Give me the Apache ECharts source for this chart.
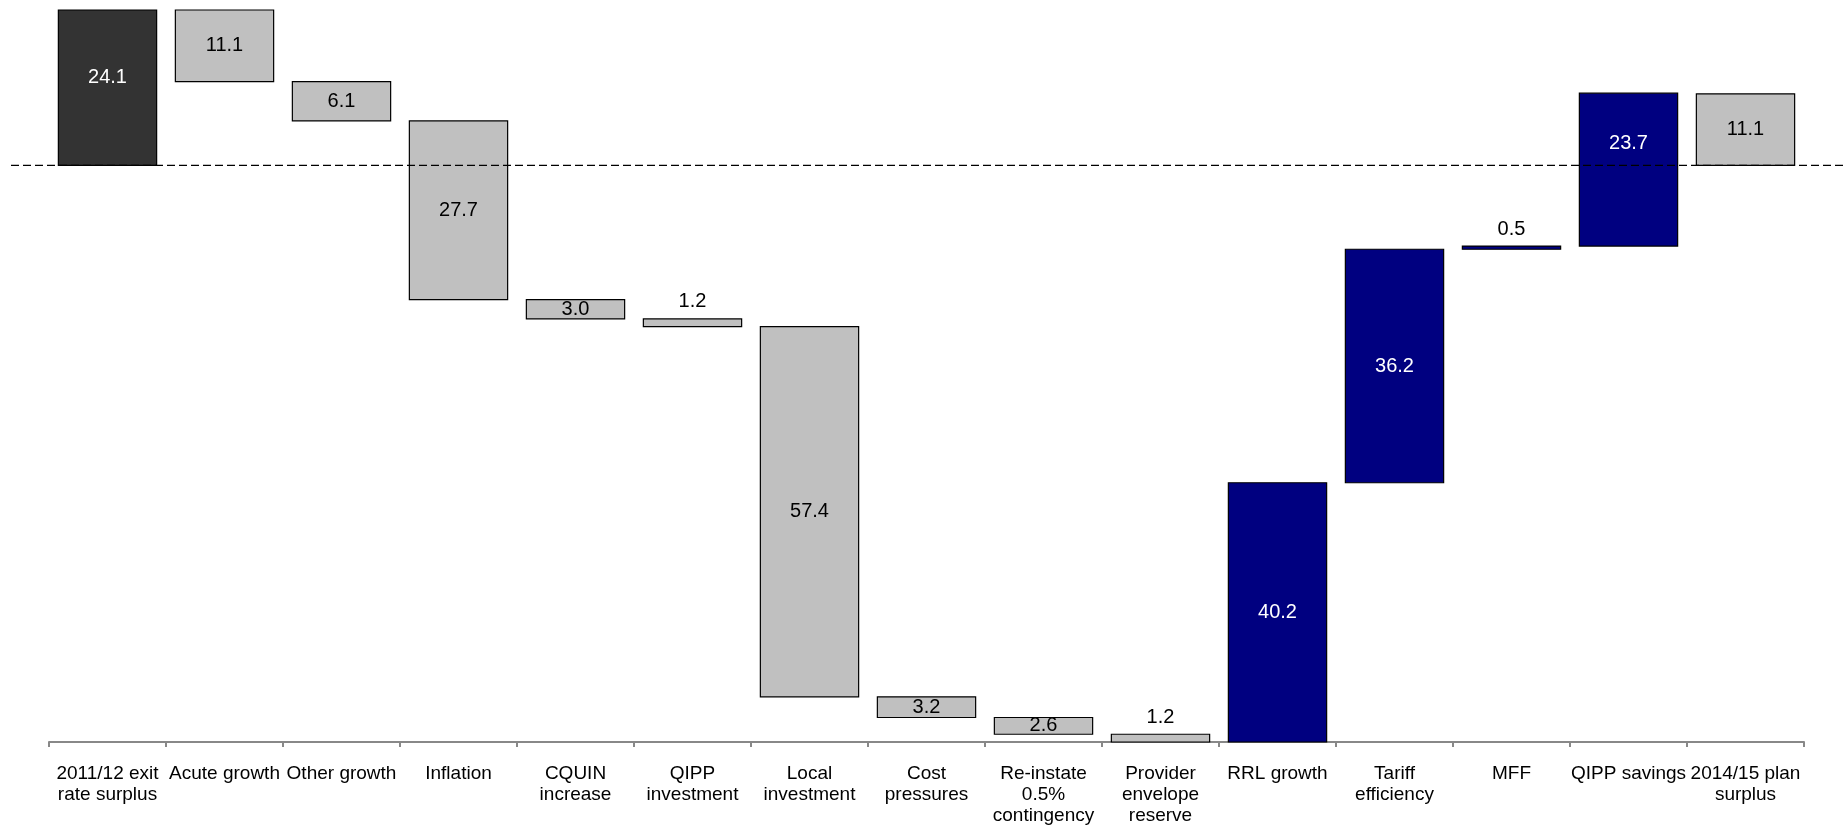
<!DOCTYPE html>
<html>
<head>
<meta charset="utf-8">
<script src="https://cdn.jsdelivr.net/npm/echarts@6/dist/echarts.min.js"></script>
<style>
  html, body { margin: 0; padding: 0; background: #ffffff; }
  #chart { width: 1845px; height: 828px; }
</style>
</head>
<body>
<div id="chart"></div>
<script>
// Bridge from the 2011/12 exit rate surplus to the 2014/15 plan surplus (£m)
const categories = [
  '2011/12 exit\nrate surplus', 'Acute growth', 'Other growth', 'Inflation',
  'CQUIN\nincrease', 'QIPP\ninvestment', 'Local\ninvestment', 'Cost\npressures',
  'Re-instate\n0.5%\ncontingency', 'Provider\nenvelope\nreserve', 'RRL growth',
  'Tariff\nefficiency', 'MFF', 'QIPP savings', '2014/15 plan\nsurplus'
];
// Signed movement of each step; first and last are totals measured from zero
const changes = [24.1, -11.1, -6.1, -27.7, -3.0, -1.2, -57.4, -3.2, -2.6, -1.2, 40.2, 36.2, 0.5, 23.7, 11.1];
const kinds = ['opening', 'cost', 'cost', 'cost', 'cost', 'cost', 'cost', 'cost', 'cost', 'cost',
               'saving', 'saving', 'saving', 'saving', 'closing'];
const baseline = 0;

const fillByKind = { opening: '#333333', cost: '#C0C0C0', saving: '#000080', closing: '#C0C0C0' };
const textByKind = { opening: '#ffffff', cost: '#000000', saving: '#ffffff', closing: '#000000' };
// a couple of in-bar labels sit above the bar's middle (pixels)
const labelLift = { 0: 10, 13: 26 };

// Floating bar extents: [index, from, to, change]
let running = baseline;
const rows = changes.map((v, i) => {
  let from, to;
  if (kinds[i] === 'opening' || kinds[i] === 'closing') {
    from = baseline; to = baseline + v;
  } else {
    from = running; to = running + v;
  }
  running = to;
  return [i, from, to, v];
});
const allEnds = rows.flatMap(r => [r[1], r[2]]);
const yMin = Math.round(Math.min(...allEnds) * 10) / 10;
const yMax = Math.round(Math.max(...allEnds) * 10) / 10;

const font = "'Liberation Sans', Arial, Helvetica, sans-serif";

const chart = echarts.init(document.getElementById('chart'), null, { renderer: 'canvas' });
chart.setOption({
  animation: false,
  backgroundColor: '#ffffff',
  grid: [
    { left: 49, right: 41, top: 10, bottom: 86, containLabel: false, outerBoundsMode: 'none' },
    { left: 11, right: 0, top: 10, bottom: 86, containLabel: false, outerBoundsMode: 'none' }
  ],
  xAxis: [
    {
      type: 'category', gridIndex: 0, data: categories,
      axisLine: { show: true, onZero: false, lineStyle: { color: '#888888', width: 2 } },
      axisTick: { show: true, length: 5, lineStyle: { color: '#888888', width: 2 } },
      axisLabel: {
        interval: 0, margin: 21, color: '#000000',
        fontFamily: font, fontSize: 19, lineHeight: 21, align: 'center'
      },
      splitLine: { show: false }
    },
    { type: 'value', gridIndex: 1, min: 0, max: 1, show: false }
  ],
  yAxis: [
    { type: 'value', gridIndex: 0, min: yMin, max: yMax, show: false, splitLine: { show: false } },
    { type: 'value', gridIndex: 1, min: yMin, max: yMax, show: false, splitLine: { show: false } }
  ],
  series: [
    {
      type: 'custom',
      xAxisIndex: 0, yAxisIndex: 0,
      data: rows,
      z: 2,
      renderItem(params, api) {
        const i = api.value(0);
        const v = api.value(3);
        const pa = api.coord([i, api.value(1)]);
        const pb = api.coord([i, api.value(2)]);
        const w = api.size([1, 0])[0] * 0.84;
        const top = Math.min(pa[1], pb[1]);
        const h = Math.abs(pb[1] - pa[1]);
        const kind = kinds[i];
        const small = Math.abs(v) < 2;
        const label = Math.abs(v).toFixed(1);
        return {
          type: 'group',
          children: [
            {
              type: 'rect',
              shape: { x: pa[0] - w / 2, y: top, width: w, height: h },
              style: { fill: fillByKind[kind], stroke: '#000000', lineWidth: 1.2 }
            },
            {
              type: 'text',
              style: {
                text: label,
                x: pa[0],
                y: small ? top - 17 : top + h / 2 - (labelLift[i] || 0),
                align: 'center',
                verticalAlign: 'middle',
                fill: small ? '#000000' : textByKind[kind],
                font: '20px ' + font
              },
              z2: 10
            }
          ]
        };
      }
    },
    {
      // zero reference line across the full width
      type: 'line',
      xAxisIndex: 1, yAxisIndex: 1,
      data: [[0, baseline], [1, baseline]],
      symbol: 'none',
      silent: true,
      z: 5,
      lineStyle: { color: '#000000', width: 1.3, type: [8, 4] }
    }
  ]
});
</script>
</body>
</html>
